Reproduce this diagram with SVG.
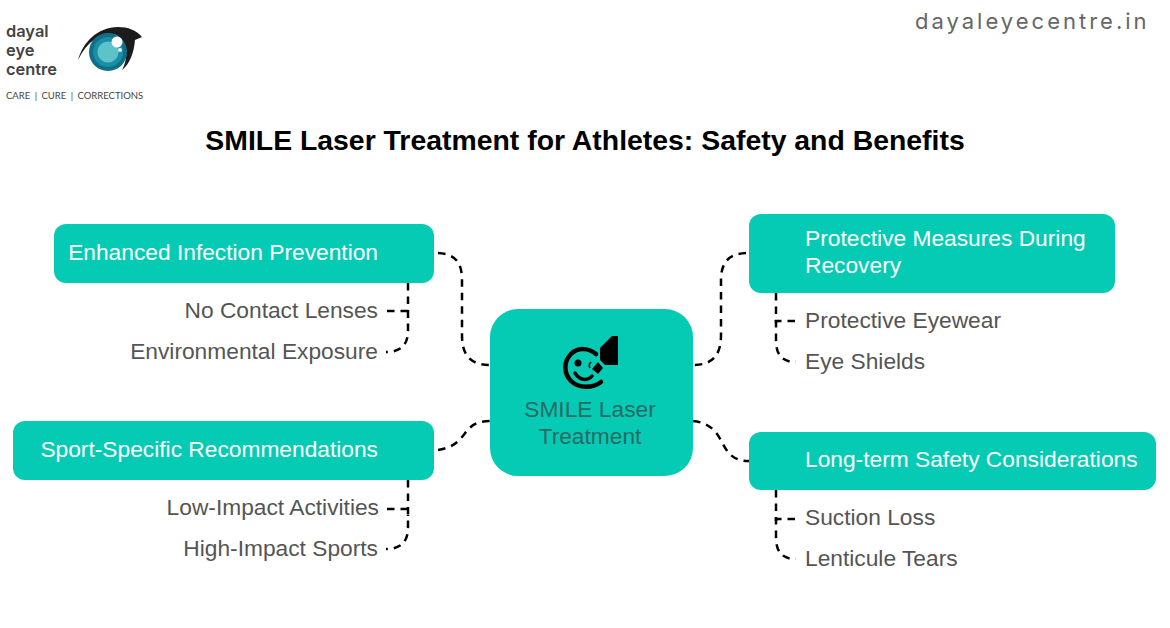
<svg xmlns="http://www.w3.org/2000/svg" width="1170" height="628" viewBox="0 0 1170 628">
<style>
.box{fill:#05cbb4}
.lbl{font-family:"Liberation Sans",Arial,sans-serif;font-size:22.75px;fill:#fff}
.sub{font-family:"Liberation Sans",Arial,sans-serif;font-size:22.75px;fill:#555}
.con{fill:none;stroke:#000;stroke-width:2.5;stroke-dasharray:7.5 6}
.logo{font-family:"Inter",sans-serif;font-weight:600;font-size:16.4px;fill:#444}
.ctr{font-family:"Liberation Sans",Arial,sans-serif;font-size:22.75px;fill:#2a6a66}
</style>
<rect width="1170" height="628" fill="#fff"/>
<g id="logo">
<text class="logo" x="6" y="37">dayal</text>
<text class="logo" x="6" y="56">eye</text>
<text class="logo" x="6" y="75">centre</text>
<text x="6" y="99" font-family="Lato,sans-serif" font-size="9.500" word-spacing="2" fill="#444">CARE | CURE | CORRECTIONS</text>
<path d="M78 60C83 42 98 27 118 27C128 27 136 30 142 37L135 40C134 52 130 64 122 70C128 60 128 44 118 36C108 30 90 36 78 60Z" fill="#1c1c1c"/>
<circle cx="108" cy="52" r="19" fill="#0f6f88"/>
<circle cx="108" cy="52" r="15" fill="#1a8ea5"/>
<circle cx="108" cy="52" r="10.500" fill="#5cc4c8"/>
<circle cx="117" cy="42" r="5.500" fill="#fff"/>
<circle cx="120" cy="50" r="2" fill="#e8f6f6"/>
</g>
<text id="site" x="915" y="29" font-family="Inter,sans-serif" font-weight="400" font-size="22" letter-spacing="3" fill="#666">dayaleyecentre.in</text>
<text id="title" x="585" y="150" text-anchor="middle" font-family="'Liberation Sans',Arial,sans-serif" font-weight="700" font-size="28.4" fill="#000">SMILE Laser Treatment for Athletes: Safety and Benefits</text>
<g id="connectors">
<path class="con" d="M438 253C455 254 462 262 462 280V335C462 355 470 365 490 365"/>
<path class="con" d="M408 283V330C408 344 402 352 386 352"/>
<path class="con" d="M387 311H408V318"/>
<path class="con" d="M438 450C470 445 460 421 490 421"/>
<path class="con" d="M408 480V527C408 541 402 549 386 549"/>
<path class="con" d="M387 509H408V516"/>
<path class="con" d="M746 253C729 254 721 262 721 280V335C721 355 713 365 693 365"/>
<path class="con" d="M776 293V340C776 355 782 362 796 362"/>
<path class="con" d="M795 321H776V328"/>
<path class="con" d="M693 421C730 425 715 461 749 461"/>
<path class="con" d="M776 490V537C776 552 782 559 796 559"/>
<path class="con" d="M795 519H776V526"/>
</g>
<g id="center">
<rect class="box" x="490" y="309" width="203" height="167" rx="28"/>
<path d="M596 354C589 348 578 347 571 354C563 362 564 374 571 381C579 389 593 388 601 382" fill="none" stroke="#000" stroke-width="4.500" stroke-linecap="round"/>
<circle cx="578" cy="363" r="3.500" fill="#000"/>
<path d="M575 373C580 381 588 381 592 376" fill="none" stroke="#000" stroke-width="3.500" stroke-linecap="round"/>
<path d="M591 362Q588 365 590 368" fill="none" stroke="#000" stroke-width="1.500"/>
<path d="M600 348L612 336H618V365H605L600 360Z" fill="#000"/>
<path d="M598 362L603 368L598 374L592 369Z" fill="#000"/>
<text class="ctr" x="590" y="417" text-anchor="middle">SMILE Laser</text>
<text class="ctr" x="590" y="444" text-anchor="middle">Treatment</text>
</g>
<g id="infection">
<rect class="box" x="54" y="224" width="380" height="59" rx="12"/>
<text class="lbl" x="378" y="260" text-anchor="end">Enhanced Infection Prevention</text>
</g>
<text id="no-contact" class="sub" x="378" y="318" text-anchor="end">No Contact Lenses</text>
<text id="env" class="sub" x="378" y="359" text-anchor="end">Environmental Exposure</text>
<g id="sport">
<rect class="box" x="13" y="421" width="421" height="59" rx="12"/>
<text class="lbl" x="378" y="457" text-anchor="end">Sport-Specific Recommendations</text>
</g>
<text id="low" class="sub" x="379" y="515" text-anchor="end">Low-Impact Activities</text>
<text id="high" class="sub" x="378" y="556" text-anchor="end">High-Impact Sports</text>
<g id="protective">
<rect class="box" x="749" y="214" width="366" height="79" rx="12"/>
<text class="lbl" x="805" y="246">Protective Measures During</text>
<text class="lbl" x="805" y="273">Recovery</text>
</g>
<text id="eyewear" class="sub" x="805" y="328">Protective Eyewear</text>
<text id="shields" class="sub" x="805" y="369">Eye Shields</text>
<g id="longterm">
<rect class="box" x="749" y="432" width="407" height="58" rx="12"/>
<text class="lbl" x="805" y="467">Long-term Safety Considerations</text>
</g>
<text id="suction" class="sub" x="805" y="525">Suction Loss</text>
<text id="tears" class="sub" x="805" y="566">Lenticule Tears</text>
</svg>
